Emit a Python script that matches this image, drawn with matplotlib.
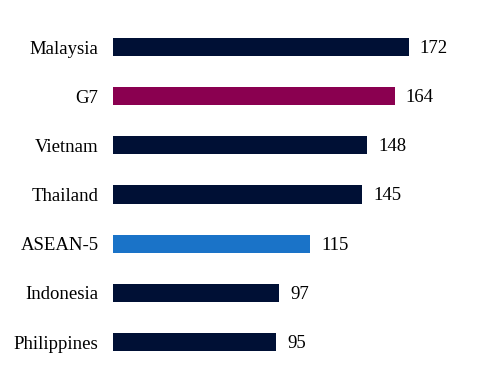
import matplotlib.pyplot as plt

# Values
countries = ["Malaysia", "G7", "Vietnam", "Thailand", "ASEAN-5", "Indonesia", "Philippines"]
values = [172, 164, 148, 145, 115, 97, 95]
bar_colors = ["#001035", "#8A0050", "#001035", "#001035", "#1A73C8", "#001035", "#001035"]

plt.rcParams['font.family'] = ['Liberation Serif', 'DejaVu Serif']

fig = plt.figure(figsize=(4.8, 3.91), dpi=100)
ax = fig.add_axes([112.5 / 480, 0, (480 - 112.5) / 480, 1])

ypos = list(range(len(countries)))
ax.barh(ypos, values, height=0.37, color=bar_colors)

for y, v in zip(ypos, values):
    ax.annotate(str(v), xy=(v, y), xytext=(8, -1), textcoords="offset points",
                ha="left", va="center", fontsize=13.5)

ax.set_xlim(0, 213.5)
ax.set_ylim(6.996, -0.956)
ax.set_yticks(ypos)
ax.set_yticklabels(countries, fontsize=13.5, va="center_baseline")
ax.tick_params(axis="y", length=0, pad=10)
ax.set_xticks([])
for s in ax.spines.values():
    s.set_visible(False)

fig.savefig("out.png", dpi=100)
